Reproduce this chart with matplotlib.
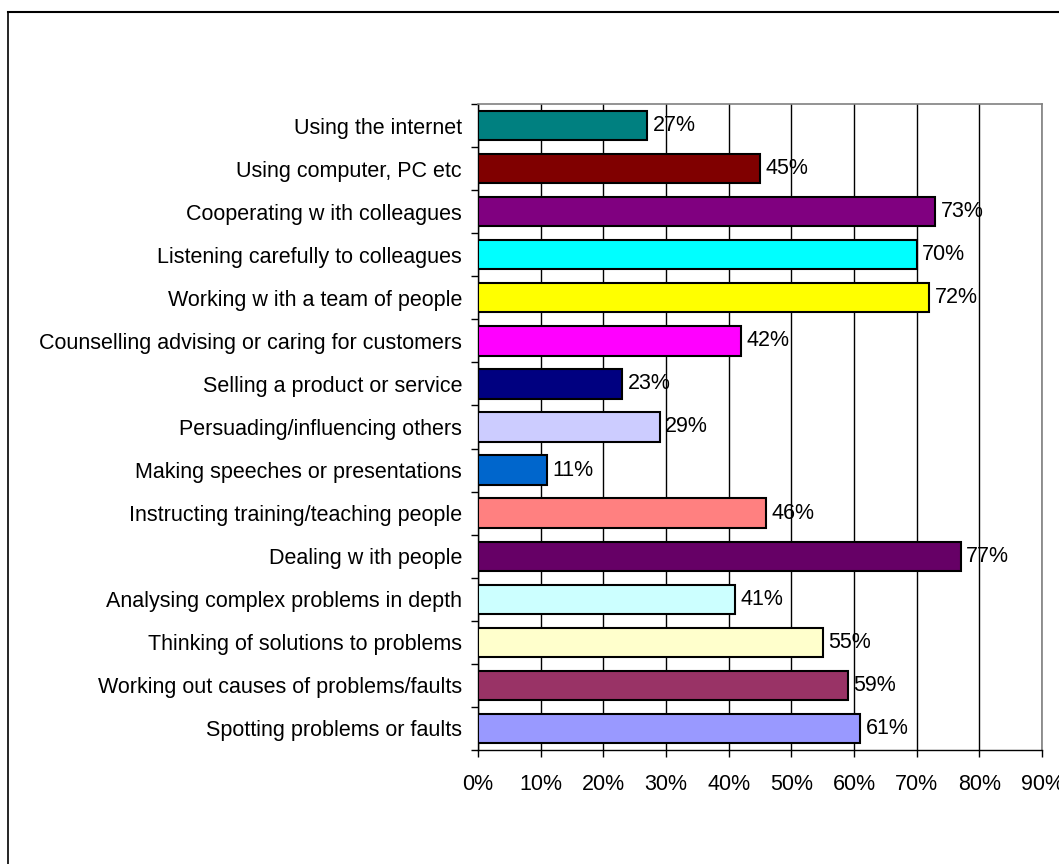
import matplotlib.pyplot as plt
import numpy as np
from matplotlib.lines import Line2D
from matplotlib.ticker import FixedLocator, PercentFormatter

plt.rcParams["font.family"] = ["Liberation Sans", "DejaVu Sans"]

# skills, listed top to bottom
skills = [
    "Using the internet",
    "Using computer, PC etc",
    "Cooperating w ith colleagues",
    "Listening carefully to colleagues",
    "Working w ith a team of people",
    "Counselling advising or caring for customers",
    "Selling a product or service",
    "Persuading/influencing others",
    "Making speeches or presentations",
    "Instructing training/teaching people",
    "Dealing w ith people",
    "Analysing complex problems in depth",
    "Thinking of solutions to problems",
    "Working out causes of problems/faults",
    "Spotting problems or faults",
]
shares = [27, 45, 73, 70, 72, 42, 23, 29, 11, 46, 77, 41, 55, 59, 61]
bar_colors = [
    "#008080", "#800000", "#800080", "#00FFFF", "#FFFF00",
    "#FF00FF", "#000080", "#CCCCFF", "#0066CC", "#FF8080",
    "#660066", "#CCFFFF", "#FFFFCC", "#993366", "#9999FF",
]
x_ticks = [0, 10, 20, 30, 40, 50, 60, 70, 80, 90]

FS = 15.5
W, H = 1059, 864
fig = plt.figure(figsize=(W / 100, H / 100), dpi=100)
ax = fig.add_axes([478 / W, 1 - 750 / H, (1042 - 478) / W, (750 - 104) / H])

n = len(skills)
ypos = np.arange(n)
ax.barh(ypos, shares, height=0.68, color=bar_colors, edgecolor="black",
        linewidth=1.5, zorder=3)
for y, v in zip(ypos, shares):
    ax.text(v + 0.9, y, f"{v}%", va="center", ha="left", fontsize=FS, zorder=4)

ax.set_xlim(0, 90)
ax.set_ylim(n - 0.5, -0.5)

ax.set_xticks(x_ticks)
ax.xaxis.set_major_formatter(PercentFormatter(decimals=0))
ax.grid(axis="x", color="black", linewidth=1, zorder=0)

ax.set_yticks(ypos)
ax.set_yticklabels(skills)
ax.yaxis.set_minor_locator(FixedLocator(np.arange(n + 1) - 0.5))
ax.tick_params(axis="y", which="major", length=0, pad=11.5, labelsize=FS)
ax.tick_params(axis="y", which="minor", length=5, width=1, direction="out")
ax.tick_params(axis="x", length=5, width=1, direction="out", pad=12, labelsize=FS)

for side in ("left", "bottom"):
    ax.spines[side].set_color("black")
    ax.spines[side].set_linewidth(1)
for side in ("top", "right"):
    ax.spines[side].set_color("#808080")
    ax.spines[side].set_linewidth(1.2)

# outer chart frame, running past the right and bottom edges
fig.add_artist(Line2D([8 / W, 1.0], [1 - 12 / H, 1 - 12 / H], color="black",
                      linewidth=1.5, transform=fig.transFigure))
fig.add_artist(Line2D([8 / W, 8 / W], [0.0, 1 - 12 / H], color="black",
                      linewidth=1.2, transform=fig.transFigure))

fig.savefig("out.png", dpi=100)
